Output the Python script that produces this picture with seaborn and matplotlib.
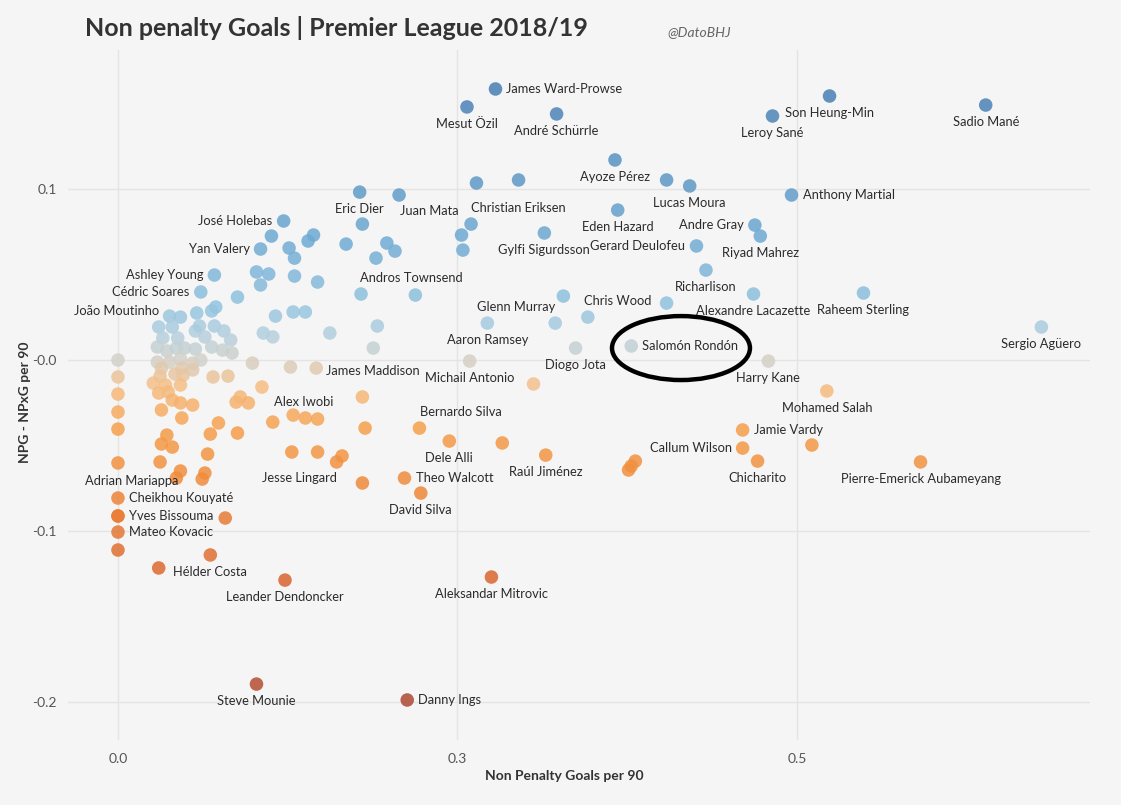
import pandas as pd
import matplotlib.pyplot as plt
import seaborn as sns
from matplotlib.colors import LinearSegmentedColormap, TwoSlopeNorm
from matplotlib.patches import Ellipse

# Jugadores con etiqueta
names = [
    'James Ward-Prowse', 'Mesut Özil', 'André Schürrle', 'Son Heung-Min', 'Leroy Sané',
    'Sadio Mané', 'Ayoze Pérez', 'Lucas Moura', 'Anthony Martial', 'Christian Eriksen',
    'Eric Dier', 'Juan Mata', 'José Holebas', 'Eden Hazard', 'Andre Gray',
    'Gylfi Sigurdsson', 'Gerard Deulofeu', 'Yan Valery', 'Riyad Mahrez', 'Ashley Young',
    'Andros Townsend', 'Richarlison', 'Cédric Soares', 'Chris Wood', 'Alexandre Lacazette',
    'Raheem Sterling', 'Glenn Murray', 'João Moutinho', 'Aaron Ramsey', 'Sergio Agüero',
    'Salomón Rondón', 'Diogo Jota', 'James Maddison', 'Michail Antonio', 'Harry Kane',
    'Alex Iwobi', 'Mohamed Salah', 'Bernardo Silva', 'Jamie Vardy', 'Dele Alli',
    'Callum Wilson', 'Raúl Jiménez', 'Chicharito', 'Pierre-Emerick Aubameyang', 'Jesse Lingard',
    'Theo Walcott', 'Adrian Mariappa', 'Cheikhou Kouyaté', 'David Silva', 'Yves Bissouma',
    'Mateo Kovacic', 'Hélder Costa', 'Leander Dendoncker', 'Aleksandar Mitrovic', 'Steve Mounie',
    'Danny Ings',
]
npg90 = [
    0.278, 0.257, 0.323, 0.524, 0.482,
    0.639, 0.366, 0.421, 0.496, 0.295,
    0.178, 0.207, 0.122, 0.368, 0.469,
    0.314, 0.426, 0.105, 0.473, 0.071,
    0.219, 0.433, 0.061, 0.404, 0.468,
    0.549, 0.322, 0.038, 0.272, 0.680,
    0.378, 0.337, 0.146, 0.259, 0.479,
    0.138, 0.522, 0.222, 0.460, 0.244,
    0.460, 0.315, 0.471, 0.591, 0.128,
    0.211, 0.000, 0.000, 0.223, 0.000,
    0.000, 0.030, 0.123, 0.275, 0.102,
    0.213,
]
diff = [
    0.1585, 0.1480, 0.1439, 0.1544, 0.1427,
    0.1491, 0.1170, 0.1018, 0.0965, 0.1053,
    0.0982, 0.0965, 0.0813, 0.0877, 0.0789,
    0.0743, 0.0667, 0.0649, 0.0725, 0.0497,
    0.0380, 0.0526, 0.0398, 0.0333, 0.0386,
    0.0392, 0.0216, 0.0257, 0.0216, 0.0193,
    0.0082, 0.0070, -0.0047, -0.0006, -0.0006,
    -0.0339, -0.0181, -0.0398, -0.0409, -0.0474,
    -0.0515, -0.0556, -0.0591, -0.0596, -0.0538,
    -0.0690, -0.0602, -0.0807, -0.0778, -0.0912,
    -0.1006, -0.1216, -0.1287, -0.1269, -0.1895,
    -0.1988,
]

# Resto de jugadores (sin etiqueta)
other_npg90 = [
    0.404, 0.264, 0.180, 0.260, 0.113, 0.144, 0.140, 0.253, 0.254, 0.126,
    0.168, 0.198, 0.204, 0.130, 0.190, 0.102, 0.111, 0.105, 0.130, 0.147,
    0.088, 0.179, 0.328, 0.346, 0.116, 0.129, 0.138, 0.191, 0.107, 0.114,
    0.156, 0.188, 0.046, 0.058, 0.069, 0.072, 0.030, 0.040, 0.057, 0.060,
    0.071, 0.078, 0.083, 0.064, 0.033, 0.044, 0.029, 0.036, 0.043, 0.049,
    0.057, 0.069, 0.077, 0.084, 0.000, 0.029, 0.038, 0.046, 0.055, 0.061,
    0.099, 0.127, 0.032, 0.047, 0.055,
    0.000, 0.031, 0.042, 0.048, 0.070, 0.081, 0.000, 0.000, 0.000, 0.026,
    0.035, 0.046, 0.030, 0.037, 0.040, 0.046, 0.055, 0.032, 0.106, 0.087,
    0.090, 0.096, 0.047, 0.074, 0.068, 0.088, 0.114, 0.129, 0.147, 0.036,
    0.032, 0.040, 0.066, 0.147, 0.165, 0.161, 0.031, 0.046, 0.043, 0.064,
    0.062, 0.079, 0.068, 0.000, 0.180, 0.182, 0.283, 0.180, 0.306, 0.511,
    0.381, 0.378, 0.376, 0.000,
]
other_diff = [
    0.1053, 0.1035, 0.0795, 0.0795, 0.0725, 0.0731, 0.0696, 0.0731, 0.0643, 0.0655,
    0.0678, 0.0684, 0.0637, 0.0596, 0.0596, 0.0515, 0.0503, 0.0439, 0.0491, 0.0456,
    0.0368, 0.0386, 0.0374, 0.0251, 0.0257, 0.0281, 0.0281, 0.0199, 0.0158, 0.0135,
    0.0158, 0.0070, 0.0251, 0.0275, 0.0287, 0.0310, 0.0193, 0.0193, 0.0170, 0.0199,
    0.0199, 0.0170, 0.0117, 0.0135, 0.0129, 0.0129, 0.0076, 0.0053, 0.0070, 0.0070,
    0.0064, 0.0076, 0.0058, 0.0041, 0.0000, -0.0012, -0.0012, 0.0006, -0.0018, 0.0000,
    -0.0018, -0.0041, -0.0047, -0.0047, -0.0058,
    -0.0099, -0.0094, -0.0082, -0.0088, -0.0099, -0.0094, -0.0199, -0.0304, -0.0404, -0.0135,
    -0.0146, -0.0146, -0.0193, -0.0187, -0.0234, -0.0251, -0.0263, -0.0292, -0.0158, -0.0246,
    -0.0216, -0.0251, -0.0339, -0.0368, -0.0433, -0.0427, -0.0363, -0.0322, -0.0345, -0.0439,
    -0.0491, -0.0509, -0.0550, -0.0538, -0.0561, -0.0596, -0.0596, -0.0649, -0.0690, -0.0661,
    -0.0696, -0.0924, -0.1140, -0.1111, -0.0216, -0.0398, -0.0485, -0.0719, -0.0140, -0.0497,
    -0.0591, -0.0620, -0.0643, -0.0912,
]

x_ticks = [0.0, 0.25, 0.5]
x_ticklabels = ['0.0', '0.3', '0.5']
y_ticks = [0.1, 0.0, -0.1, -0.2]
y_ticklabels = ['0.1', '-0.0', '-0.1', '-0.2']

# Posicion de las etiquetas (pixeles respecto al punto, alineacion)
R, L = (11, 0, 'left'), (-11, 0, 'right')
label_pos = {
    'James Ward-Prowse': R, 'Anthony Martial': R, 'Salomón Rondón': R, 'James Maddison': (10, -3, 'left'),
    'Jamie Vardy': R, 'Theo Walcott': R, 'Cheikhou Kouyaté': R, 'Yves Bissouma': R,
    'Mateo Kovacic': R, 'Hélder Costa': (14, -4, 'left'), 'Danny Ings': R,
    'José Holebas': L, 'Andre Gray': L, 'Gerard Deulofeu': L, 'Yan Valery': L,
    'Ashley Young': L, 'Cédric Soares': L, 'Chris Wood': (-15, 2, 'right'),
    'João Moutinho': (-10, 5, 'right'), 'Callum Wilson': L,
    'Christian Eriksen': (0, -28, 'center'), 'Juan Mata': (30, -16, 'center'),
    'Andros Townsend': (-4, 17, 'center'), 'Glenn Murray': (-39, 16, 'center'),
    'Alex Iwobi': (-2, 16, 'center'), 'Bernardo Silva': (41, 16, 'center'),
    'Jesse Lingard': (8, -26, 'center'), 'Adrian Mariappa': (14, -18, 'center'),
}

df = pd.DataFrame({
    'npg90': npg90 + other_npg90,
    'diff': diff + other_diff,
})

cmap = LinearSegmentedColormap.from_list('orange_blue', [
    (0.0, '#ad4a33'), (0.175, '#d9652f'), (0.3, '#ee8537'), (0.4, '#f59f4b'),
    (0.4625, '#f6bf86'), (0.5, '#d4d1c9'), (0.5375, '#b3d0df'), (0.575, '#94c4df'),
    (0.675, '#6eaad3'), (0.875, '#4a82b5'), (1.0, '#366a9f'),
])
norm = TwoSlopeNorm(vmin=-0.2, vcenter=0.0, vmax=0.2)

bg = '#f5f5f5'
fig = plt.figure(figsize=(11.21, 8.05), dpi=100, facecolor=bg)
ax = fig.add_axes([68 / 1121, 65 / 805, 1022 / 1121, 690 / 805], facecolor=bg)

sns.scatterplot(data=df, x='npg90', y='diff', hue='diff', palette=cmap, hue_norm=norm,
                s=95, alpha=0.85, edgecolor='none', legend=False, ax=ax, zorder=3)

ax.set_xlim(-0.0368, 0.7158)
ax.set_ylim(-0.2222, 0.1813)
ax.set_xticks(x_ticks, labels=x_ticklabels)
ax.set_yticks(y_ticks, labels=y_ticklabels)
ax.tick_params(length=0, labelsize=10, labelcolor='#555555', labelfontfamily='Lato')
ax.tick_params(axis='x', pad=9)
ax.tick_params(axis='y', pad=8)
ax.grid(True, color='#e4e4e4', linewidth=1)
ax.set_axisbelow(True)
for s in ax.spines.values():
    s.set_visible(False)

ax.set_xlabel('Non Penalty Goals per 90', fontsize=10, fontweight='bold', color='#333333', family='Lato')
ax.xaxis.set_label_coords(0.486, -0.043)
ax.set_ylabel('NPG - NPxG per 90', fontsize=10, fontweight='bold', color='#333333', family='Lato')
ax.yaxis.set_label_coords(-0.036, 0.49)

for name, xv, yv in zip(names, npg90, diff):
    dx, dy, ha = label_pos.get(name, (0, -17, 'center'))
    ax.annotate(name, (xv, yv), xytext=(dx, dy), textcoords='offset pixels',
                ha=ha, va='center', fontsize=9.3, color='#2b2b2b', family='Lato', zorder=4)

# Elipse alrededor de Rondón
ax.add_patch(Ellipse((0.4146, 0.0070), 0.1016, 0.0374, fill=False, edgecolor='black',
                     linewidth=3.2, zorder=5))

fig.text(85 / 1121, 1 - 28 / 805, 'Non penalty Goals | Premier League 2018/19', ha='left', va='center',
         fontsize=18, fontweight='bold', color='#333333', family='Lato')
fig.text(667 / 1121, 1 - 32 / 805, '@DatoBHJ', ha='left', va='center', fontsize=10,
         style='italic', color='#666666', family='Lato')

fig.savefig('out.png', dpi=100, facecolor=bg)
